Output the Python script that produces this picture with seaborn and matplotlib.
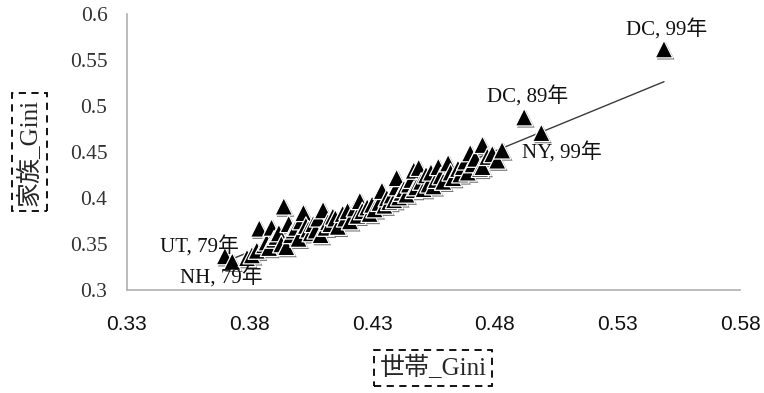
import matplotlib
matplotlib.use("Agg")
import matplotlib.pyplot as plt
import matplotlib.patheffects as pe
import seaborn as sns
import pandas as pd

# ---- data ----
household_gini = [
    0.370, 0.373, 0.379, 0.381, 0.383, 0.384, 0.386, 0.387, 0.388, 0.389,
    0.390, 0.391, 0.392, 0.393, 0.394, 0.395, 0.396, 0.397, 0.398, 0.399,
    0.400, 0.401, 0.402, 0.403, 0.404, 0.405, 0.406, 0.407, 0.408, 0.409,
    0.410, 0.411, 0.412, 0.413, 0.414, 0.415, 0.416, 0.418, 0.419, 0.420,
    0.421, 0.423, 0.424, 0.425, 0.426, 0.428, 0.429, 0.430, 0.431, 0.433,
    0.434, 0.435, 0.436, 0.437, 0.438, 0.439, 0.440, 0.440, 0.441, 0.442,
    0.443, 0.444, 0.445, 0.446, 0.447, 0.447, 0.448, 0.449, 0.450, 0.451,
    0.452, 0.453, 0.454, 0.455, 0.456, 0.457, 0.458, 0.459, 0.461, 0.462,
    0.463, 0.465, 0.466, 0.467, 0.468, 0.469, 0.470, 0.471, 0.472, 0.474,
    0.475, 0.475, 0.477, 0.479, 0.481, 0.483, 0.492, 0.499, 0.549,
]
family_gini = [
    0.337, 0.331, 0.335, 0.338, 0.343, 0.367, 0.349, 0.352, 0.346, 0.368,
    0.355, 0.358, 0.362, 0.350, 0.391, 0.347, 0.372, 0.360, 0.365, 0.368,
    0.356, 0.375, 0.384, 0.370, 0.366, 0.362, 0.372, 0.365, 0.378, 0.360,
    0.387, 0.368, 0.374, 0.372, 0.380, 0.378, 0.369, 0.383, 0.378, 0.386,
    0.375, 0.389, 0.381, 0.397, 0.386, 0.390, 0.383, 0.393, 0.388, 0.395,
    0.408, 0.392, 0.400, 0.396, 0.403, 0.398, 0.412, 0.422, 0.401, 0.406,
    0.410, 0.404, 0.415, 0.420, 0.430, 0.409, 0.412, 0.433, 0.418, 0.410,
    0.425, 0.415, 0.428, 0.413, 0.420, 0.434, 0.424, 0.418, 0.438, 0.428,
    0.422, 0.432, 0.426, 0.434, 0.440, 0.428, 0.449, 0.437, 0.443, 0.432,
    0.458, 0.434, 0.445, 0.448, 0.441, 0.452, 0.488, 0.471, 0.562,
]

label_texts = ["DC, 99年", "DC, 89年", "NY, 99年", "UT, 79年", "NH, 79年"]
label_x = [0.5502, 0.4935, 0.5074, 0.3598, 0.3687]
label_y = [0.5826, 0.5098, 0.4490, 0.3467, 0.3130]

x_ticks = [0.33, 0.38, 0.43, 0.48, 0.53, 0.58]
x_tick_labels = ["0.33", "0.38", "0.43", "0.48", "0.53", "0.58"]
y_ticks = [0.30, 0.35, 0.40, 0.45, 0.50, 0.55, 0.60]
y_tick_labels = ["0.3", "0.35", "0.4", "0.45", "0.5", "0.55", "0.6"]

x_label = "世帯_Gini"
y_label = "家族_Gini"

df = pd.DataFrame({"hh": household_gini, "fam": family_gini})

sns.set_theme(style="white")
serif_fam = ["Liberation Serif", "Noto Sans CJK JP"]
sans_fam = ["Liberation Sans", "DejaVu Sans"]
plt.rcParams["font.family"] = serif_fam

fig = plt.figure(figsize=(7.64, 3.93), dpi=100)
ax = fig.add_axes([0.166, 0.262, 0.8026, 0.702])

sns.regplot(data=df, x="hh", y="fam", ax=ax, scatter=False, ci=None,
            truncate=True, line_kws=dict(color="#3a3a3a", lw=1.0, zorder=1))
sns.scatterplot(data=df, x="hh", y="fam", ax=ax, marker="^", s=160,
                color="black", edgecolor="white", linewidth=0.9,
                zorder=3, legend=False)
for coll in ax.collections:
    coll.set_path_effects([pe.SimplePatchShadow(offset=(1.2, -1.2),
                                                shadow_rgbFace="black",
                                                alpha=0.55), pe.Normal()])

for t, tx, ty in zip(label_texts, label_x, label_y):
    ax.text(tx, ty, t, ha="center", va="center", fontsize=15,
            family=serif_fam, color="#111111", zorder=5)

ax.set_xlim(0.33, 0.58)
ax.set_ylim(0.30, 0.60)
ax.set_xticks(x_ticks)
ax.set_xticklabels(x_tick_labels, family=sans_fam, fontsize=15, color="#111111")
ax.set_yticks(y_ticks)
ax.set_yticklabels(y_tick_labels, family=serif_fam, fontsize=15.5, color="#333333")

for s in ["top", "right"]:
    ax.spines[s].set_visible(False)
for s in ["left", "bottom"]:
    ax.spines[s].set_color("#b0b0b0")
    ax.spines[s].set_linewidth(1.2)
ax.tick_params(axis="y", direction="out", length=6, width=1.0, color="#b0b0b0", pad=8)
ax.tick_params(axis="x", direction="out", length=4, width=1.0, color="#b0b0b0", pad=14)

box = dict(boxstyle="square,pad=0.22", fc="white", ec="black", ls=(0, (4, 3)), lw=1.3)
ax.set_xlabel(x_label, fontsize=18, family=serif_fam, bbox=box, va="center")
ax.set_ylabel(y_label, fontsize=18, family=serif_fam, bbox=box, va="center")
ax.xaxis.set_label_coords(0.5, (290 - 368) / 276)
ax.yaxis.set_label_coords((30 - 127) / 613, 0.5)

fig.savefig("out.png", dpi=100)
